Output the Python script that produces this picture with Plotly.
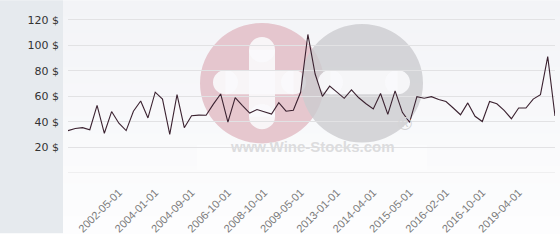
import plotly.graph_objects as go

# ---- data ----
prices = [33.2, 34.9, 35.5, 33.9, 52.9, 31.1, 48.1, 39.0, 33.2, 48.4,
          56.4, 43.1, 63.3, 57.9, 30.2, 61.3, 35.5, 44.8, 45.3, 45.2,
          53.9, 61.9, 39.9, 59.0, 52.8, 46.9, 49.7, 47.8, 46.1, 55.1,
          48.4, 49.2, 63.2, 108.5, 77.5, 60.0, 68.0, 63.3, 58.5, 65.1,
          58.9, 54.2, 50.1, 62.3, 45.9, 64.3, 47.5, 39.6, 59.8, 58.6,
          59.8, 57.5, 56.0, 50.9, 45.6, 54.9, 44.4, 40.3, 56.0, 54.2,
          49.1, 42.5, 50.9, 50.9, 57.9, 61.4, 91.1, 44.7]
tick_labels = ["2002-05-01", "2004-01-01", "2004-09-01", "2006-10-01",
               "2008-10-01", "2009-05-01", "2013-01-01", "2014-04-01",
               "2015-05-01", "2016-02-01", "2016-10-01", "2019-04-01"]
y_ticks = [0, 20, 40, 60, 80, 100, 120]
y_tick_text = ["" if v == 0 else f"{v} $" for v in y_ticks]

x_idx = list(range(len(prices)))
label_start, label_step = 7, 5
x_tickvals = [label_start + label_step * i for i in range(len(tick_labels))]

# ---- layout geometry helpers (pixels -> paper) ----
W, H = 560, 240
L, R, T, B = 68, 5, 7, 62
PW, PH = W - L - R, H - T - B


def px(p):
    return (p - L) / PW


def py(p):
    return (H - B - p) / PH


fig = go.Figure()
fig.add_trace(go.Scatter(x=x_idx, y=prices, mode="lines",
                         line=dict(color="#3b2230", width=1.1),
                         hoverinfo="skip", showlegend=False))

shapes = []
# background gradient (right part)
n = 14
top_c, bot_c = (243, 244, 247), (253, 253, 254)
for i in range(n):
    t = i / (n - 1)
    c = tuple(round(top_c[k] + (bot_c[k] - top_c[k]) * t) for k in range(3))
    shapes.append(dict(type="rect", xref="paper", yref="paper", layer="below",
                       x0=px(63), x1=px(W), y0=py(H * i / n), y1=py(H * (i + 1) / n + 1),
                       line=dict(width=0), fillcolor=f"rgb{c}"))
# left grey panel
shapes.append(dict(type="rect", xref="paper", yref="paper", layer="below",
                   x0=px(0), x1=px(63), y0=py(H), y1=py(0),
                   line=dict(width=0), fillcolor="rgb(230,234,238)"))


def circle(cx, cy, r, color):
    return dict(type="circle", xref="paper", yref="paper", layer="between",
                x0=px(cx - r), x1=px(cx + r), y0=py(cy + r), y1=py(cy - r),
                line=dict(width=0), fillcolor=color)


def rbar(x0, x1, y0, y1, color):
    # rounded bar: rect plus two end circles
    out = []
    if (x1 - x0) >= (y1 - y0):
        r = (y1 - y0) / 2
        out.append(dict(type="rect", xref="paper", yref="paper", layer="between",
                        x0=px(x0 + r), x1=px(x1 - r), y0=py(y1), y1=py(y0),
                        line=dict(width=0), fillcolor=color))
        out.append(circle(x0 + r, (y0 + y1) / 2, r, color))
        out.append(circle(x1 - r, (y0 + y1) / 2, r, color))
    else:
        r = (x1 - x0) / 2
        out.append(dict(type="rect", xref="paper", yref="paper", layer="between",
                        x0=px(x0), x1=px(x1), y0=py(y1 - r), y1=py(y0 + r),
                        line=dict(width=0), fillcolor=color))
        out.append(circle((x0 + x1) / 2, y0 + r, r, color))
        out.append(circle((x0 + x1) / 2, y1 - r, r, color))
    return out


white = "rgba(250,250,252,0.9)"
shapes.append(circle(262, 85.5, 62, "rgba(224,184,194,0.78)"))
shapes += rbar(249, 275, 38, 133, white)
shapes += rbar(213, 306, 72, 97, white)
shapes.append(circle(362, 85.5, 61, "rgba(204,204,207,0.8)"))
shapes += rbar(318, 410, 72, 97, white)
shapes.append(dict(type="rect", xref="paper", yref="paper", layer="between",
                   x0=px(197), x1=px(427), y0=py(175), y1=py(149),
                   line=dict(width=0), fillcolor="rgba(252,252,253,0.85)"))
# baseline (zero gridline) at the bottom of the plot area
shapes.append(dict(type="line", xref="paper", yref="y", layer="between",
                   x0=0, x1=1, y0=0, y1=0, line=dict(color="#e2e2e4", width=1)))

annotations = [
    dict(text="www.Wine-Stocks.com", xref="paper", yref="paper",
         x=px(312.5), y=py(161.5), showarrow=False,
         font=dict(family="Liberation Sans", size=15, color="#dcdcde", weight="bold")),
    dict(text="®", xref="paper", yref="paper", x=px(414), y=py(140), showarrow=False,
         font=dict(family="Liberation Sans", size=19, color="#d4d4d6")),
]

fig.update_layout(
    width=W, height=H,
    margin=dict(l=L, r=R, t=T, b=B, pad=0),
    paper_bgcolor="white", plot_bgcolor="rgba(0,0,0,0)",
    shapes=shapes, annotations=annotations,
    showlegend=False,
    xaxis=dict(range=[0, len(prices) - 1], showgrid=False, zeroline=False,
               showline=False, ticks="", tickmode="array",
               tickvals=x_tickvals, ticktext=tick_labels, tickangle=-45,
               ticklabelstandoff=10,
               tickfont=dict(family="Liberation Sans", size=11, color="#7a7a7a")),
    yaxis=dict(range=[0, 130], showgrid=True, gridcolor="#e2e2e4", gridwidth=1,
               zeroline=False, showline=False, ticks="", tickmode="array",
               tickvals=y_ticks, ticktext=y_tick_text, ticklabelstandoff=8,
               tickfont=dict(family="DejaVu Sans", size=11, color="#333333")),
)

fig.write_html("out.html")
